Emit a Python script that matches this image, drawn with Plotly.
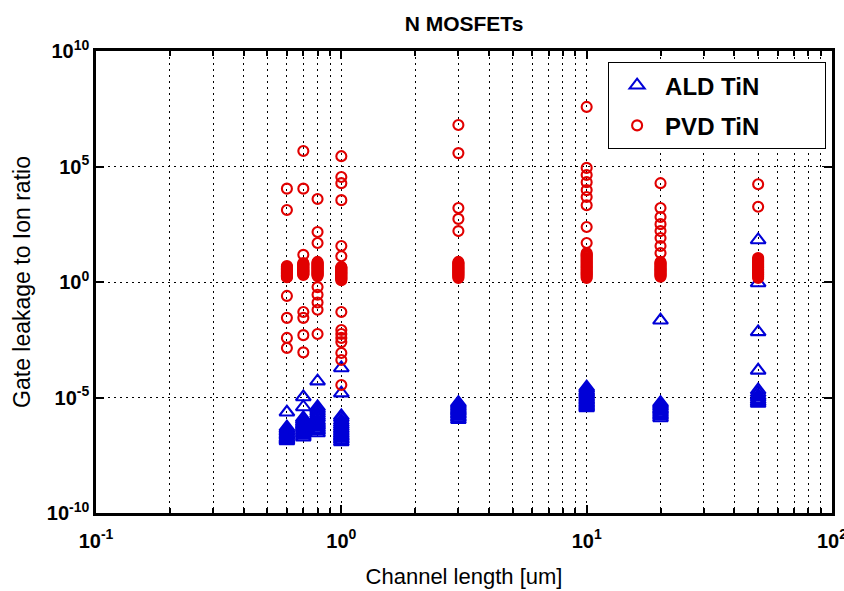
import plotly.graph_objects as go

# ---- data ----
channel_len = [0.6, 0.7, 0.8, 1, 3, 10, 20, 50]

ald_0p6 = [2.3e-6, 5.2e-7, 4.4e-7, 3.8e-7, 3.3e-7, 2.8e-7, 2.4e-7, 2.1e-7, 1.8e-7, 1.6e-7, 1.45e-7, 1.3e-7]
ald_0p7 = [1.05e-5, 3.9e-6, 1.3e-6, 1.1e-6, 9e-7, 7.6e-7, 6.5e-7, 5.6e-7, 4.8e-7, 4.2e-7,
           3.6e-7, 3.1e-7, 2.7e-7, 2.3e-7, 1.9e-7]
ald_0p8 = [5.1e-5, 3.9e-6, 3.1e-6, 2.5e-6, 2e-6, 1.6e-6, 1.3e-6, 1e-6, 8.4e-7, 7e-7, 6e-7,
           5e-7, 4.2e-7, 3.6e-7, 2.9e-7]
ald_1 = [1.9e-4, 1.55e-5, 1.6e-6, 1.3e-6, 1e-6, 8e-7, 6.5e-7, 5.4e-7, 4.5e-7, 3.8e-7, 3.2e-7,
         2.7e-7, 2.3e-7, 2e-7, 1.7e-7, 1.45e-7, 1.2e-7]
ald_3 = [6e-6, 5.2e-6, 4.5e-6, 3.9e-6, 3.4e-6, 3e-6, 2.6e-6, 2.3e-6, 2e-6, 1.75e-6, 1.5e-6, 1.3e-6, 1.1e-6]
ald_10 = [2.8e-5, 2.4e-5, 2e-5, 1.7e-5, 1.5e-5, 1.3e-5, 1.1e-5, 9.4e-6, 8e-6, 7e-6, 6e-6, 5.2e-6,
          4.5e-6, 4e-6, 3.5e-6]
ald_20 = [0.022, 6e-6, 5.2e-6, 4.5e-6, 3.9e-6, 3.3e-6, 2.9e-6, 2.5e-6, 2.1e-6, 1.8e-6, 1.55e-6, 1.3e-6]
ald_50 = [66, 0.91, 6.9e-3, 1.5e-4, 2.1e-5, 1.6e-5, 1.2e-5, 1e-5, 8e-6, 6.6e-6, 5.5e-6]

pvd_0p6 = [1.1e4, 1.3e3, 4.9, 4.6, 4.3, 4.0, 3.8, 3.6, 3.4, 3.2, 3.0, 2.8, 2.6, 2.45, 2.3,
           2.15, 2.0, 1.9, 1.8, 1.7, 1.6, 0.25, 0.028, 3.8e-3, 1.4e-3]
pvd_0p7 = [4.7e5, 1.1e4, 15, 6.6, 6.2, 5.8, 5.4, 5.0, 4.6, 4.2, 3.9, 3.6, 3.3, 3.1, 2.9, 2.7,
           2.5, 2.3, 2.15, 2.0, 0.05, 0.028, 5e-3, 9e-4]
pvd_0p8 = [3.9e3, 145, 49, 7.4, 6.8, 6.2, 5.7, 5.2, 4.8, 4.4, 4.0, 3.7, 3.4, 3.1, 2.85, 2.6,
           2.4, 2.2, 2.0, 1.8, 0.6, 0.28, 0.13, 0.063, 5.6e-3]
pvd_1 = [2.8e5, 3.5e4, 1.9e4, 3.5e3, 36, 13, 4.5, 4.2, 3.9, 3.6, 3.3, 3.05, 2.8, 2.6, 2.4,
         2.2, 2.0, 1.85, 1.7, 1.55, 1.4, 1.3, 1.2, 0.05, 8.3e-3, 5.6e-3, 3.8e-3, 2.5e-3,
         8.5e-4, 4.2e-4, 3.5e-5]
pvd_3 = [6.3e6, 3.8e5, 1.6e3, 540, 160, 7.4, 6.7, 6.1, 5.5, 5.0, 4.5, 4.1, 3.7, 3.4, 3.1,
         2.8, 2.55, 2.3, 2.1, 1.9, 1.7, 1.5]
pvd_10 = [3.8e7, 8.7e4, 4.3e4, 2.1e4, 9.5e3, 4.8e3, 2.1e3, 240, 49, 18, 16, 14, 12.5, 11,
          9.7, 8.5, 7.5, 6.6, 5.9, 5.2, 4.6, 4.1, 3.6, 3.2, 2.8, 2.5, 2.2, 2.0, 1.75, 1.5]
pvd_20 = [1.9e4, 1.6e3, 650, 320, 160, 80, 36, 18, 7.4, 6.7, 6.0, 5.4, 4.8, 4.3, 3.9, 3.5,
          3.2, 2.9, 2.6, 2.35, 2.1, 1.9, 1.7]
pvd_50 = [1.7e4, 1.8e3, 11, 9.6, 8.5, 7.5, 6.6, 5.9, 5.2, 4.6, 4.1, 3.6, 3.2, 2.8, 2.5,
          2.2, 2.0, 1.75, 1.5]

ald_by_len = [ald_0p6, ald_0p7, ald_0p8, ald_1, ald_3, ald_10, ald_20, ald_50]
pvd_by_len = [pvd_0p6, pvd_0p7, pvd_0p8, pvd_1, pvd_3, pvd_10, pvd_20, pvd_50]

x_tickvals = [0.1, 1, 10, 100]
x_ticktext = ["10<sup>-1</sup>", "10<sup>0</sup>", "10<sup>1</sup>", "10<sup>2</sup>"]
x_minorvals = [0.2, 0.3, 0.4, 0.5, 0.6, 0.7, 0.8, 0.9,
               2, 3, 4, 5, 6, 7, 8, 9,
               20, 30, 40, 50, 60, 70, 80, 90]
y_tickvals = [1e-10, 1e-5, 1, 1e5, 1e10]
y_ticktext = ["10<sup>-10</sup>", "10<sup>-5</sup>", "10<sup>0</sup>", "10<sup>5</sup>", "10<sup>10</sup>"]

legend_names = ["ALD TiN", "PVD TiN"]


def flatten(groups):
    xs, ys = [], []
    for L, vals in zip(channel_len, groups):
        xs += [L] * len(vals)
        ys += vals
    return xs, ys


FONT = "Liberation Sans, Arial, Helvetica, sans-serif"
NB = "\u00a0"

ax, ay = flatten(ald_by_len)
px_, py_ = flatten(pvd_by_len)

fig = go.Figure()
fig.add_trace(go.Scatter(
    x=ax, y=ay, mode="markers", name=legend_names[0] + NB * 9, legendgroup="a",
    marker=dict(symbol="triangle-up-open", size=13, color="rgb(0,0,215)",
                line=dict(width=2.1, color="rgb(0,0,215)")),
))
fig.add_trace(go.Scatter(
    x=px_, y=py_, mode="markers", name=legend_names[1] + NB * 9, legendgroup="b",
    marker=dict(symbol="circle-open", size=10, color="rgb(225,0,0)",
                line=dict(width=2.1, color="rgb(225,0,0)")),
))

grid_dash = "2px,4px"
fig.update_layout(
    width=844, height=591,
    margin=dict(l=96, r=12, t=51, b=78, autoexpand=False),
    paper_bgcolor="white", plot_bgcolor="white",
    font=dict(family=FONT, color="black"),
    title=dict(text="N MOSFETs", x=0.5, xref="paper", xanchor="center",
               y=1 - 24 / 591, yref="container", yanchor="middle",
               font=dict(size=21, family=FONT, color="black", weight="bold")),
    showlegend=True,
    legend=dict(x=0.992, y=0.976, xanchor="right", yanchor="top",
                bgcolor="white", bordercolor="black", borderwidth=1,
                font=dict(size=24, family=FONT, color="black", weight="bold"),
                traceorder="grouped", tracegroupgap=6, itemwidth=46),
    xaxis=dict(
        type="log", range=[-1, 2], automargin=False,
        tickmode="array", tickvals=x_tickvals, ticktext=x_ticktext,
        tickfont=dict(size=20, family=FONT, color="black", weight="bold"),
        ticklabeloverflow="allow", ticklabelstandoff=8,
        ticks="inside", ticklen=8, tickwidth=1.5, tickcolor="black",
        showline=True, linecolor="black", linewidth=2.5, mirror="allticks",
        showgrid=True, gridcolor="black", gridwidth=1, griddash=grid_dash,
        minor=dict(tickmode="array", tickvals=x_minorvals, ticks="inside", ticklen=5,
                   tickwidth=1.5, tickcolor="black", showgrid=True, gridcolor="black",
                   gridwidth=1, griddash=grid_dash),
        zeroline=False,
        title=dict(text="Channel length [um]", standoff=18,
                   font=dict(size=22, family=FONT, color="black")),
    ),
    yaxis=dict(
        type="log", range=[-10, 10], automargin=False,
        tickmode="array", tickvals=y_tickvals, ticktext=y_ticktext,
        tickfont=dict(size=20, family=FONT, color="black", weight="bold"),
        ticks="inside", ticklen=8, tickwidth=1.5, tickcolor="black",
        showline=True, linecolor="black", linewidth=2.5, mirror="allticks",
        showgrid=True, gridcolor="black", gridwidth=1, griddash=grid_dash,
        zeroline=False,
        title=dict(text="Gate leakage to Ion ratio", standoff=10,
                   font=dict(size=23, family=FONT, color="black")),
    ),
)

fig.write_html("out.html")
